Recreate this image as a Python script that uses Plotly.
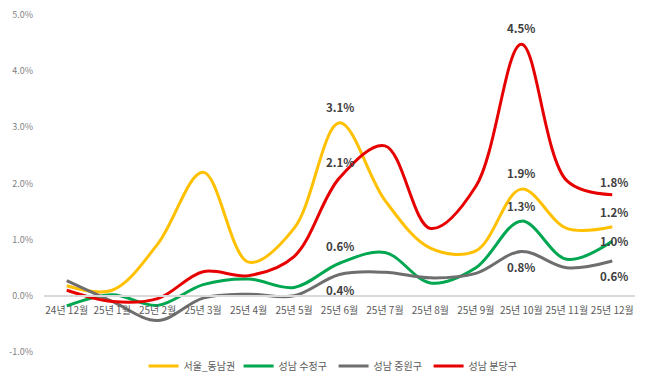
import plotly.graph_objects as go

categories = ["24년 12월", "25년 1월", "25년 2월", "25년 3월", "25년 4월", "25년 5월",
              "25년 6월", "25년 7월", "25년 8월", "25년 9월", "25년 10월", "25년 11월", "25년 12월"]

seoul_dongnam = [0.18, 0.10, 0.92, 2.20, 0.60, 1.20, 3.08, 1.70, 0.85, 0.80, 1.90, 1.20, 1.23]
sujeong = [-0.18, 0.02, -0.17, 0.20, 0.30, 0.15, 0.58, 0.77, 0.23, 0.50, 1.33, 0.65, 0.97]
jungwon = [0.27, -0.10, -0.44, -0.04, 0.03, 0.00, 0.38, 0.42, 0.32, 0.40, 0.79, 0.50, 0.62]
bundang = [0.10, -0.10, -0.05, 0.43, 0.36, 0.70, 2.10, 2.67, 1.20, 1.95, 4.48, 2.05, 1.80]

series_names = ["서울_동남권", "성남 수정구", "성남 중원구", "성남 분당구"]
series_values = [seoul_dongnam, sujeong, jungwon, bundang]
colors = ["#FFC000", "#00A650", "#6E6E6E", "#E60000"]

y_ticks = [-1, 0, 1, 2, 3, 4, 5]
y_tick_text = ["-1.0%", "0.0%", "1.0%", "2.0%", "3.0%", "4.0%", "5.0%"]

# (series index, category index, vertical shift in px, x shift)
labels = [
    (0, 6, 16, 0), (3, 6, 16, 0), (1, 6, 17, 0), (2, 6, -16, 0),
    (3, 10, 16, 0), (0, 10, 16, 0), (1, 10, 15, 0), (2, 10, -16, 0),
    (3, 12, 13, 2), (0, 12, 15, 2), (1, 12, 0, 2), (2, 12, -15, 2),
]

fig = go.Figure()
for name, vals, col in zip(series_names, series_values, colors):
    fig.add_trace(go.Scatter(
        x=categories, y=vals, name=name, mode="lines",
        line=dict(color=col, width=3, shape="spline", smoothing=1.0),
    ))

for si, ci, ys, xs in labels:
    v = series_values[si][ci]
    fig.add_annotation(
        x=categories[ci], y=v, text=f"{v:.1f}%", showarrow=False,
        yshift=ys, xshift=xs,
        font=dict(family="Noto Sans CJK KR, Liberation Sans", size=11.5, color="#404040", weight="bold"),
    )

fig.update_layout(
    width=650, height=389,
    margin=dict(l=36, r=23, t=7, b=45, autoexpand=False),
    paper_bgcolor="white", plot_bgcolor="white",
    font=dict(family="Noto Sans CJK KR, Liberation Sans", color="#7F7F7F", size=9),
    legend=dict(orientation="h", x=0.49, xanchor="center", y=-14 / 337, yanchor="middle",
                font=dict(size=10, color="#595959"), itemwidth=30, entrywidth=50,
                traceorder="normal"),
    showlegend=True,
)
fig.update_xaxes(
    anchor="free", position=1/6, showgrid=False, zeroline=False,
    range=[-0.5, len(categories) - 0.5], automargin=False,
    showline=True, linecolor="#D9D9D9", linewidth=1.5,
    ticks="", ticklabelstandoff=5, tickfont=dict(size=10, color="#595959"),
)
fig.update_yaxes(
    range=[-1, 5], tickvals=y_ticks, ticktext=y_tick_text, automargin=False,
    showgrid=False, zeroline=False, showline=False, ticklabelstandoff=10,
    ticklabeloverflow="allow", tickfont=dict(size=9, color="#7F7F7F"),
)

fig.write_html("out.html")
